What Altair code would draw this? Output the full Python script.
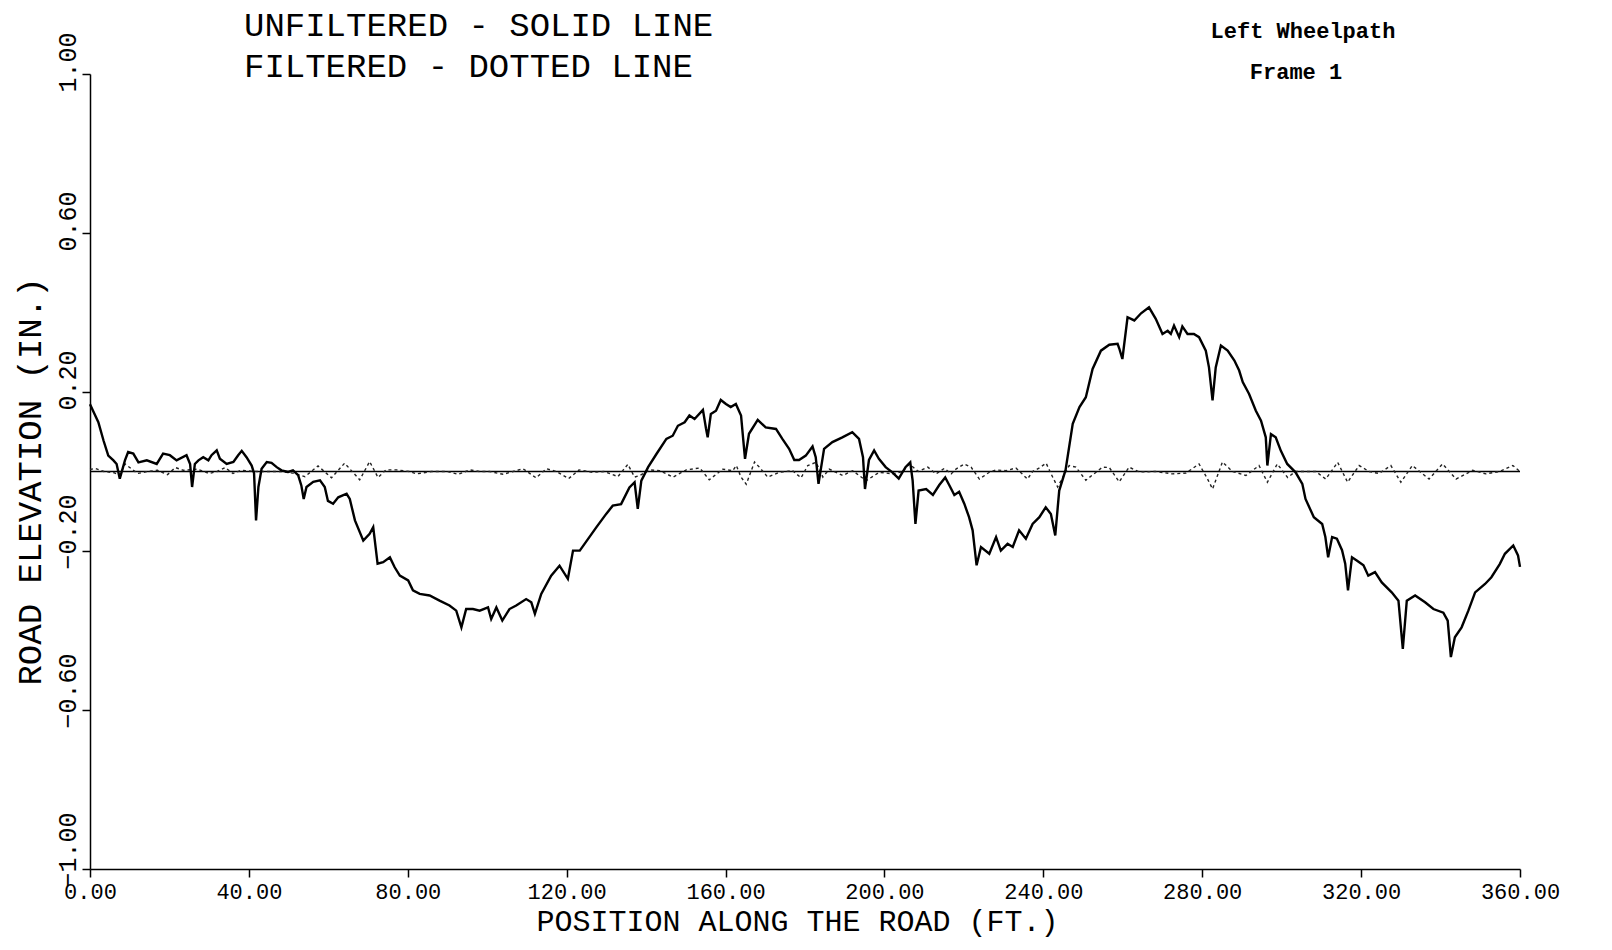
import altair as alt
import pandas as pd

# ---------------- data ----------------
POS_UNF = [
    0.0, 2.1, 3.4, 4.6, 5.9, 6.7, 7.5, 8.8, 9.6, 10.9, 12.2, 14.3, 16.8, 18.4, 20.1, 21.8,
    24.3, 25.2, 25.7, 26.4, 27.3, 28.5, 29.8, 30.6, 31.9, 32.7, 34.4, 36.1, 37.3, 38.2, 39.4,
    40.7, 41.3, 41.8, 42.4, 43.2, 44.5, 45.7, 47.0, 48.2, 49.9, 51.1, 52.4, 53.2, 53.8, 54.5,
    56.2, 57.9, 59.1, 59.9, 61.2, 62.5, 64.6, 65.4, 66.7, 68.8, 70.4, 71.3, 72.4, 73.8, 75.5,
    76.7, 78.0, 80.1, 81.3, 83.0, 85.5, 88.0, 90.5, 92.2, 93.5, 94.7, 96.4, 98.1, 100.2, 101.0,
    102.3, 103.8, 105.6, 107.3, 109.8, 111.1, 112.0, 113.6, 116.1, 118.2, 120.3, 121.6, 123.3,
    127.5, 130.0, 131.6, 133.7, 135.8, 137.1, 137.9, 138.8, 140.5, 142.6, 145.1, 146.7, 148.0,
    149.7, 150.9, 152.2, 154.3, 155.1, 155.5, 156.3, 157.6, 158.8, 160.1, 161.3, 162.6, 163.9,
    164.4, 164.9, 165.9, 168.1, 170.1, 172.7, 174.3, 176.0, 177.3, 178.5, 180.2, 181.9, 182.7,
    183.4, 184.8, 186.9, 189.4, 191.9, 193.6, 194.6, 195.1, 196.1, 197.4, 198.6, 200.3, 202.0,
    203.6, 205.3, 206.5, 207.1, 207.8, 208.6, 210.5, 212.2, 213.8, 215.3, 216.3, 217.6, 218.8,
    220.1, 221.3, 222.2, 223.2, 224.3, 226.4, 228.1, 229.3, 231.0, 232.3, 233.9, 235.6, 237.3,
    239.0, 240.6, 241.9, 243.0, 244.0, 245.6, 247.4, 249.1, 250.7, 252.4, 254.5, 256.6, 258.7,
    259.1, 259.9, 261.2, 262.9, 264.6, 266.6, 268.3, 270.0, 271.3, 272.1, 272.9, 274.2, 275.0,
    276.3, 277.9, 279.2, 280.9, 281.7, 282.6, 283.4, 284.7, 286.4, 288.1, 289.3, 290.2, 291.8,
    293.5, 294.8, 296.0, 296.4, 297.3, 298.5, 299.8, 301.4, 303.5, 305.2, 306.0, 308.1, 310.2,
    311.0, 311.7, 312.7, 313.9, 315.2, 316.0, 316.7, 317.7, 318.9, 320.6, 321.8, 323.5, 325.2,
    327.7, 329.4, 330.5, 331.5, 333.6, 336.1, 338.2, 340.7, 341.8, 342.6, 343.6, 345.3, 347.0,
    348.7, 351.2, 352.8, 354.9, 356.2, 358.3, 359.5, 360.0,
]
ELEV_UNF = [
    0.169, 0.124, 0.078, 0.040, 0.028, 0.019, -0.018, 0.028, 0.049, 0.045, 0.023, 0.028, 0.019,
    0.045, 0.041, 0.028, 0.041, 0.019, -0.039, 0.019, 0.028, 0.036, 0.028, 0.041, 0.053, 0.032,
    0.019, 0.024, 0.041, 0.052, 0.036, 0.015, -0.004, -0.123, -0.039, 0.007, 0.024, 0.022, 0.011,
    0.003, -0.001, 0.003, -0.009, -0.035, -0.069, -0.039, -0.026, -0.022, -0.039, -0.074, -0.081,
    -0.065, -0.056, -0.069, -0.123, -0.174, -0.157, -0.140, -0.232, -0.228, -0.216, -0.241, -0.262,
    -0.274, -0.299, -0.308, -0.312, -0.325, -0.337, -0.350, -0.392, -0.346, -0.346, -0.350, -0.342,
    -0.371, -0.342, -0.375, -0.346, -0.337, -0.321, -0.329, -0.358, -0.308, -0.262, -0.237, -0.270,
    -0.199, -0.199,
    -0.140, -0.106, -0.086, -0.082, -0.040, -0.027, -0.094, -0.023, 0.011, 0.044, 0.082, 0.090,
    0.115, 0.124, 0.141, 0.132, 0.155, 0.107, 0.086, 0.145, 0.153, 0.180, 0.170, 0.162, 0.170,
    0.141, 0.086, 0.032, 0.095, 0.130, 0.111, 0.107, 0.082, 0.057, 0.029, 0.029, 0.040, 0.063,
    0.036, -0.031, 0.057, 0.074, 0.086, 0.099, 0.082, 0.036, -0.044, 0.029, 0.053, 0.032, 0.011,
    -0.002, -0.018, 0.011, 0.023, -0.023, -0.132, -0.048, -0.044, -0.059, -0.034, -0.015, -0.034,
    -0.059, -0.051, -0.081, -0.115, -0.148, -0.236, -0.190, -0.207, -0.165, -0.199, -0.182, -0.190,
    -0.148, -0.169, -0.132, -0.115, -0.090, -0.107, -0.161, -0.048, 0.004, 0.120, 0.162, 0.187,
    0.258, 0.304, 0.319, 0.321, 0.310, 0.283, 0.388, 0.380, 0.398, 0.413, 0.384, 0.346, 0.354,
    0.346, 0.367, 0.338, 0.365, 0.346, 0.346, 0.338, 0.304, 0.262, 0.179, 0.262, 0.317, 0.304,
    0.279, 0.254, 0.225, 0.195, 0.153, 0.128, 0.086, 0.015, 0.094, 0.086, 0.052, 0.019, -0.002,
    -0.031, -0.069, -0.115, -0.132, -0.165, -0.216, -0.165, -0.169, -0.198, -0.232, -0.299, -0.216,
    -0.224, -0.236, -0.262, -0.253, -0.279, -0.304, -0.325, -0.446, -0.325, -0.312, -0.329, -0.346,
    -0.355, -0.375, -0.467, -0.417, -0.392, -0.350, -0.304, -0.283, -0.266, -0.233, -0.207, -0.186,
    -0.211, -0.240,
]

POS_FIL = [
    0.0, 1.3, 3.5, 6.0, 7.5, 8.8, 10.0, 12.0, 14.5, 17.0, 19.5, 21.5, 23.5, 27.0, 30.0, 32.0,
    34.0, 36.0, 38.0, 42.0, 45.0, 48.0, 51.0, 54.1, 57.4, 60.8, 64.1, 67.9, 70.4, 72.5, 74.5,
    77.2, 80.5, 82.2, 86.0, 90.0, 92.7, 95.6, 98.1, 100.6, 104.0, 106.5, 109.0, 112.3, 114.9,
    117.4, 120.5, 123.1, 126.6, 129.5, 132.9, 135.4, 137.1, 138.4, 140.9, 143.4, 146.8, 150.1,
    153.5, 155.9, 159.3, 161.8, 162.7, 163.9, 165.2, 167.3, 168.5, 170.6, 173.6, 176.9, 179.0,
    180.7, 182.8, 184.5, 186.1, 189.5, 192.0, 195.4, 198.7, 202.1, 204.6, 206.3, 208.5, 210.9,
    213.0, 215.1, 216.8, 218.0, 220.1, 221.8, 223.9, 226.4, 228.1, 230.6, 233.1, 236.0, 237.3,
    239.0, 240.7, 241.9, 243.6, 246.5, 248.2, 250.7, 254.9, 256.6, 259.1, 261.6, 264.1, 268.3,
    272.5, 275.9, 279.2, 281.3, 282.6, 285.1, 287.6, 291.0, 294.3, 296.4, 298.9, 301.5, 303.5,
    306.1, 308.6, 311.1, 314.1, 316.6, 319.5, 322.0, 324.5, 327.5, 330.0, 332.9, 337.1, 340.5,
    343.9, 348.1, 351.4, 354.8, 358.2, 360.0,
]
ELEV_FIL = [
    0.005, 0.008, 0.000, -0.003, -0.010, 0.019, 0.010, -0.005, 0.000, 0.003, -0.008, 0.010, 0.003,
    0.006, -0.005, 0.000, 0.010, -0.005, 0.003, 0.000, 0.000, 0.000, -0.004, -0.013, 0.014, -0.016,
    0.021, -0.021, 0.025, -0.015, 0.004, 0.004, 0.000, -0.006, 0.000, 0.000, -0.007, 0.004, 0.000,
    0.000, -0.007, 0.000, 0.007, -0.016, 0.007, 0.000, -0.018, 0.004, -0.002, 0.000, -0.013, 0.018,
    -0.014, -0.010, 0.004, 0.002, -0.014, 0.004, 0.009, -0.021, 0.006, 0.002, 0.015, -0.014, -0.032,
    0.024, 0.011, -0.014, -0.002, 0.002, -0.016, 0.015, 0.023, -0.014, 0.006, -0.010, 0.002, -0.023,
    -0.002, -0.006, 0.000, 0.019, 0.000, 0.011, -0.006, 0.008, -0.006, 0.006, 0.019, 0.011, -0.019,
    -0.002, 0.004, 0.002, 0.009, -0.019, 0.000, 0.009, 0.021, -0.005, -0.039, 0.015, 0.011, -0.022,
    0.011, 0.010, -0.026, 0.011, -0.001, 0.000, -0.006, -0.004, 0.019, -0.018, -0.044, 0.024, 0.000,
    -0.010, 0.015, -0.027, 0.019, -0.015, 0.000, 0.000, 0.000, -0.019, 0.023, -0.027, 0.015, 0.000,
    -0.005, 0.015, -0.027, 0.015, -0.019, 0.019, -0.019, 0.003, -0.006, 0.000, 0.015, 0.000,
]

X_TICKS = [0, 40, 80, 120, 160, 200, 240, 280, 320, 360]
Y_TICKS = [1.0, 0.6, 0.2, -0.2, -0.6, -1.0]
X_DOMAIN = [0, 360]
Y_DOMAIN = [-1.0, 1.0]
LEGEND_LINES = ["UNFILTERED - SOLID LINE", "FILTERED - DOTTED LINE"]
CAPTION_LINES = ["Left Wheelpath", "Frame 1"]
X_TITLE = "POSITION ALONG THE ROAD (FT.)"
Y_TITLE = "ROAD ELEVATION (IN.)"

# ---------------- chart ----------------
W, H = 1430, 795
FONT = "Liberation Mono"

unf = pd.DataFrame({"pos": POS_UNF, "elev": ELEV_UNF})
fil = pd.DataFrame({"pos": POS_FIL, "elev": ELEV_FIL})
zero = pd.DataFrame({"x": [X_DOMAIN[0]], "x2": [X_DOMAIN[1]], "y": [0.0]})

x_scale = alt.Scale(domain=X_DOMAIN, nice=False, zero=False)
y_scale = alt.Scale(domain=Y_DOMAIN, nice=False)

x_axis = alt.Axis(
    values=X_TICKS, format=".2f", title=X_TITLE, grid=False,
    domainColor="black", domainWidth=1.5, tickColor="black", tickWidth=1.5, tickSize=8,
    labelFont=FONT, labelFontSize=22, labelColor="black", labelPadding=4,
    labelFlush=False, labelOverlap=False,
    titleFont=FONT, titleFontSize=30, titleFontWeight="normal", titleColor="black",
    titleX=707, titleY=61, titleAlign="center", titleBaseline="alphabetic",
)
y_axis = alt.Axis(
    values=Y_TICKS, format=".2f", title=Y_TITLE, grid=False,
    domainColor="black", domainWidth=1.5, tickColor="black", tickWidth=1.5, tickSize=8,
    labelFont=FONT, labelFontSize=25, labelColor="black", labelPadding=7,
    labelAngle=270, labelAlign="left", labelBaseline="alphabetic", labelOffset=18,
    labelFlush=False, labelOverlap=False,
    titleFont=FONT, titleFontSize=34, titleFontWeight="normal", titleColor="black",
    titleAngle=270, titleX=-50, titleY=407, titleAlign="center", titleBaseline="alphabetic",
)

solid = alt.Chart(unf).mark_line(color="black", strokeWidth=2.4).encode(
    x=alt.X("pos:Q", scale=x_scale, axis=x_axis),
    y=alt.Y("elev:Q", scale=y_scale, axis=y_axis),
    order="pos:Q",
)
dotted = alt.Chart(fil).mark_line(color="#222", strokeWidth=1.4, strokeDash=[3, 3]).encode(
    x=alt.X("pos:Q", scale=x_scale),
    y=alt.Y("elev:Q", scale=y_scale),
    order="pos:Q",
)
zero_line = alt.Chart(zero).mark_rule(color="black", strokeWidth=1.5).encode(
    x=alt.X("x:Q", scale=x_scale),
    x2="x2:Q",
    y=alt.Y("y:Q", scale=y_scale),
)


def label(text, xpx, ypx, size, weight="normal", align="left"):
    return alt.Chart(pd.DataFrame({"t": [text]})).mark_text(
        font=FONT, fontSize=size, fontWeight=weight, color="black",
        align=align, baseline="alphabetic",
    ).encode(x=alt.value(xpx), y=alt.value(ypx), text="t:N")


texts = [
    label(LEGEND_LINES[0], 154, -38, 34),
    label(LEGEND_LINES[1], 154, 3, 34),
    label(CAPTION_LINES[0], 1213, -36, 22, "bold", "center"),
    label(CAPTION_LINES[1], 1206, 5, 22, "bold", "center"),
]

chart = alt.layer(zero_line, dotted, solid, *texts).properties(
    width=W, height=H,
    padding={"left": 82, "top": 66, "right": 60, "bottom": 72},
    autosize=alt.AutoSizeParams(type="none"),
    background="white",
).configure_view(stroke=None)

chart.save("out.html", embed_options={"renderer": "svg", "actions": False})
